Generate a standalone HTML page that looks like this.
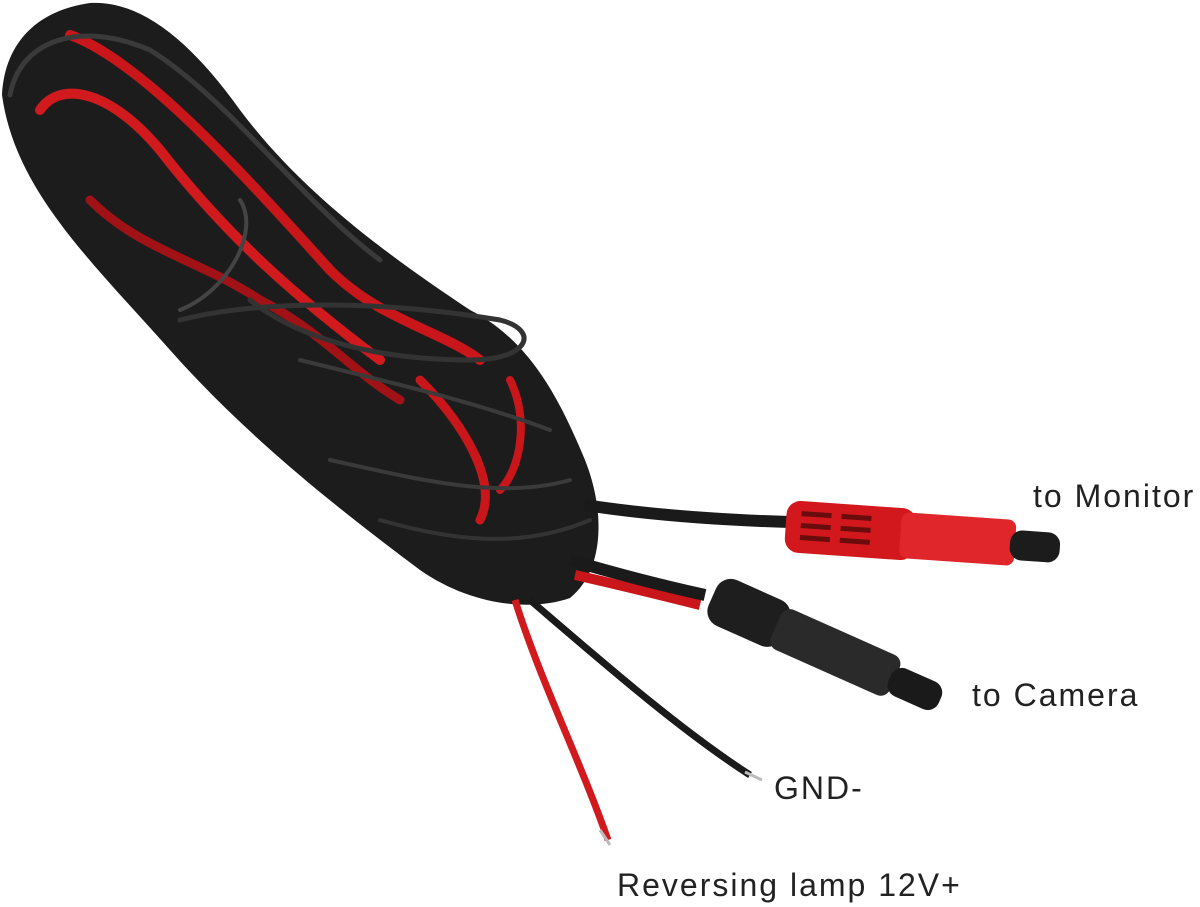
<!DOCTYPE html>
<html><head><style>
html,body{margin:0;padding:0;background:#fff;}
svg{display:block}
text{font-family:"Liberation Sans",sans-serif;fill:#222;font-size:32px;letter-spacing:2px}
</style></head><body>
<svg width="1200" height="907" viewBox="0 0 1200 907">
<path d="M2,95 C5,40 40,10 90,3 C140,0 190,40 240,110 C300,190 380,250 470,310 C530,340 560,400 585,460 C605,510 605,570 570,598 C530,612 470,605 420,570 C340,510 250,440 170,350 C90,260 15,190 2,95 Z" fill="#1c1c1c"/>
<g fill="none" stroke-linecap="round">
<path d="M70,35 C140,60 240,170 330,270 C380,320 440,330 480,360" stroke="#c8161a" stroke-width="10"/>
<path d="M40,110 C60,80 110,90 160,150 C230,240 300,300 380,360" stroke="#d01a1e" stroke-width="10"/>
<path d="M90,200 C140,250 200,260 260,300 C320,330 350,370 400,400" stroke="#a01216" stroke-width="9"/>
<path d="M420,380 C460,420 500,480 480,520" stroke="#c8161a" stroke-width="9"/>
<path d="M510,380 C530,420 520,470 500,490" stroke="#c8161a" stroke-width="8"/>
<path d="M10,95 C20,40 80,20 150,50 C230,100 300,200 380,260" stroke="#3a3a3a" stroke-width="5"/>
<path d="M180,320 C260,300 380,300 500,320 C540,330 530,360 470,360 C380,360 300,340 250,300" stroke="#333" stroke-width="5"/>
<path d="M300,360 C380,380 470,400 550,430" stroke="#3a3a3a" stroke-width="4"/>
<path d="M330,460 C420,480 500,500 570,480" stroke="#3a3a3a" stroke-width="4"/>
<path d="M380,520 C450,540 520,550 590,520" stroke="#333" stroke-width="4"/>
<path d="M240,200 C260,230 230,290 180,310" stroke="#444" stroke-width="4"/>
</g>
<path d="M585,505 C650,515 720,520 790,522" stroke="#1a1a1a" stroke-width="12" fill="none"/>
<g transform="rotate(4 900 540)">
<rect x="785" y="508" width="130" height="52" rx="14" fill="#d2181c"/>
<rect x="900" y="512" width="115" height="46" rx="8" fill="#e0262a"/>
<rect x="1010" y="522" width="50" height="30" rx="12" fill="#1c1c1c"/>
<g fill="#6a0c0e"><rect x="800" y="518" width="30" height="5"/><rect x="800" y="530" width="30" height="5"/><rect x="800" y="542" width="30" height="5"/><rect x="840" y="518" width="30" height="5"/><rect x="840" y="530" width="30" height="5"/><rect x="840" y="542" width="30" height="5"/></g>
</g>
<path d="M575,575 C620,585 660,595 700,605" stroke="#c8161a" stroke-width="10" fill="none"/>
<path d="M570,560 C620,575 660,585 705,595" stroke="#1a1a1a" stroke-width="12" fill="none"/>
<g transform="rotate(24 820 650)">
<rect x="700" y="620" width="80" height="50" rx="16" fill="#1e1e1e"/>
<rect x="770" y="624" width="130" height="44" rx="10" fill="#2a2a2a"/>
<rect x="895" y="632" width="55" height="30" rx="12" fill="#1a1a1a"/>
</g>
<path d="M515,600 C540,680 580,760 608,840" stroke="#d01a1e" stroke-width="7" fill="none"/>
<path d="M530,600 C600,660 680,730 750,775" stroke="#1a1a1a" stroke-width="7" fill="none"/>
<path d="M600,830 L610,845" stroke="#bbb" stroke-width="3"/>
<path d="M745,772 L762,780" stroke="#bbb" stroke-width="3"/>
<text x="1033" y="507">to Monitor</text>
<text x="972" y="706">to Camera</text>
<text x="774" y="799">GND-</text>
<text x="617" y="896">Reversing lamp 12V+</text>
</svg>
</body></html>
